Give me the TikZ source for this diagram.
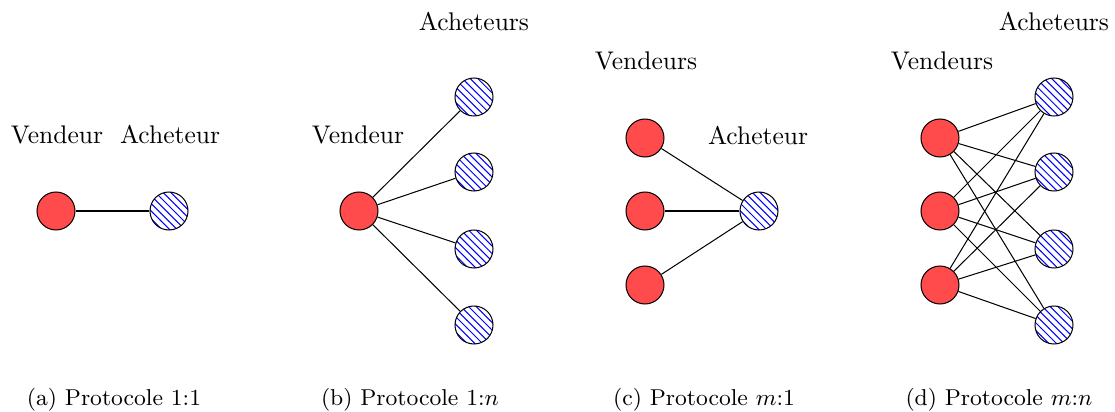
\documentclass[tikz,border=0pt]{standalone}
\usetikzlibrary{patterns}
\definecolor{vred}{HTML}{FF4B4B}
\begin{document}
\begin{tikzpicture}[x=0.392pt,y=-0.392pt,
  seller/.style={circle,draw=black,fill=vred,minimum size=38*0.392pt,inner sep=0pt},
  buyer/.style={circle,draw=black,pattern=north west lines,pattern color=blue,minimum size=38*0.392pt,inner sep=0pt},
  lbl/.style={inner sep=0pt,font=\normalsize},
  captext/.style={inner sep=0pt,font=\small},
  link/.style={draw=black}]
\useasboundingbox (0,0) rectangle (1115,412);
% (a)
\node[seller] (a1) at (56,211) {};
\node[buyer] (ab) at (169,211) {};
\draw[link] (a1) -- (ab);
\node[lbl] (alv) at (57,135) {Vendeur};
\node[lbl] (ala) at (170,135) {Acheteur};
\node[captext] (ac) at (114,400) {(a) Protocole 1:1};
% (b)
\node[seller] (b1) at (359,211) {};
\foreach \i/\y in {1/97,2/172,3/249,4/325}{
  \node[buyer] (bb\i) at (474,\y) {};
  \draw[link] (b1) -- (bb\i);
}
\node[lbl] (blv) at (358,135) {Vendeur};
\node[lbl] (bla) at (474,22) {Acheteurs};
\node[captext] (bc) at (410,400) {(b) Protocole 1:$n$};
% (c)
\node[buyer] (cb) at (759,211) {};
\foreach \i/\y in {1/138,2/211,3/285}{
  \node[seller] (cs\i) at (645,\y) {};
  \draw[link] (cs\i) -- (cb);
}
\node[lbl] (clv) at (646,61) {Vendeurs};
\node[lbl] (cla) at (758,136) {Acheteur};
\node[captext] (cc) at (704,400) {(c) Protocole $m$:1};
% (d)
\foreach \i/\y in {1/138,2/211,3/285}{
  \node[seller] (ds\i) at (940,\y) {};
}
\foreach \j/\y in {1/97,2/172,3/249,4/325}{
  \node[buyer] (db\j) at (1054,\y) {};
}
\foreach \i in {1,2,3}{
  \foreach \j in {1,2,3,4}{
    \draw[link] (ds\i) -- (db\j);
  }
}
\node[lbl] (dlv) at (942,61) {Vendeurs};
\node[lbl] (dla) at (1054,22) {Acheteurs};
\node[captext] (dc) at (999,400) {(d) Protocole $m$:$n$};
\end{tikzpicture}
\end{document}
